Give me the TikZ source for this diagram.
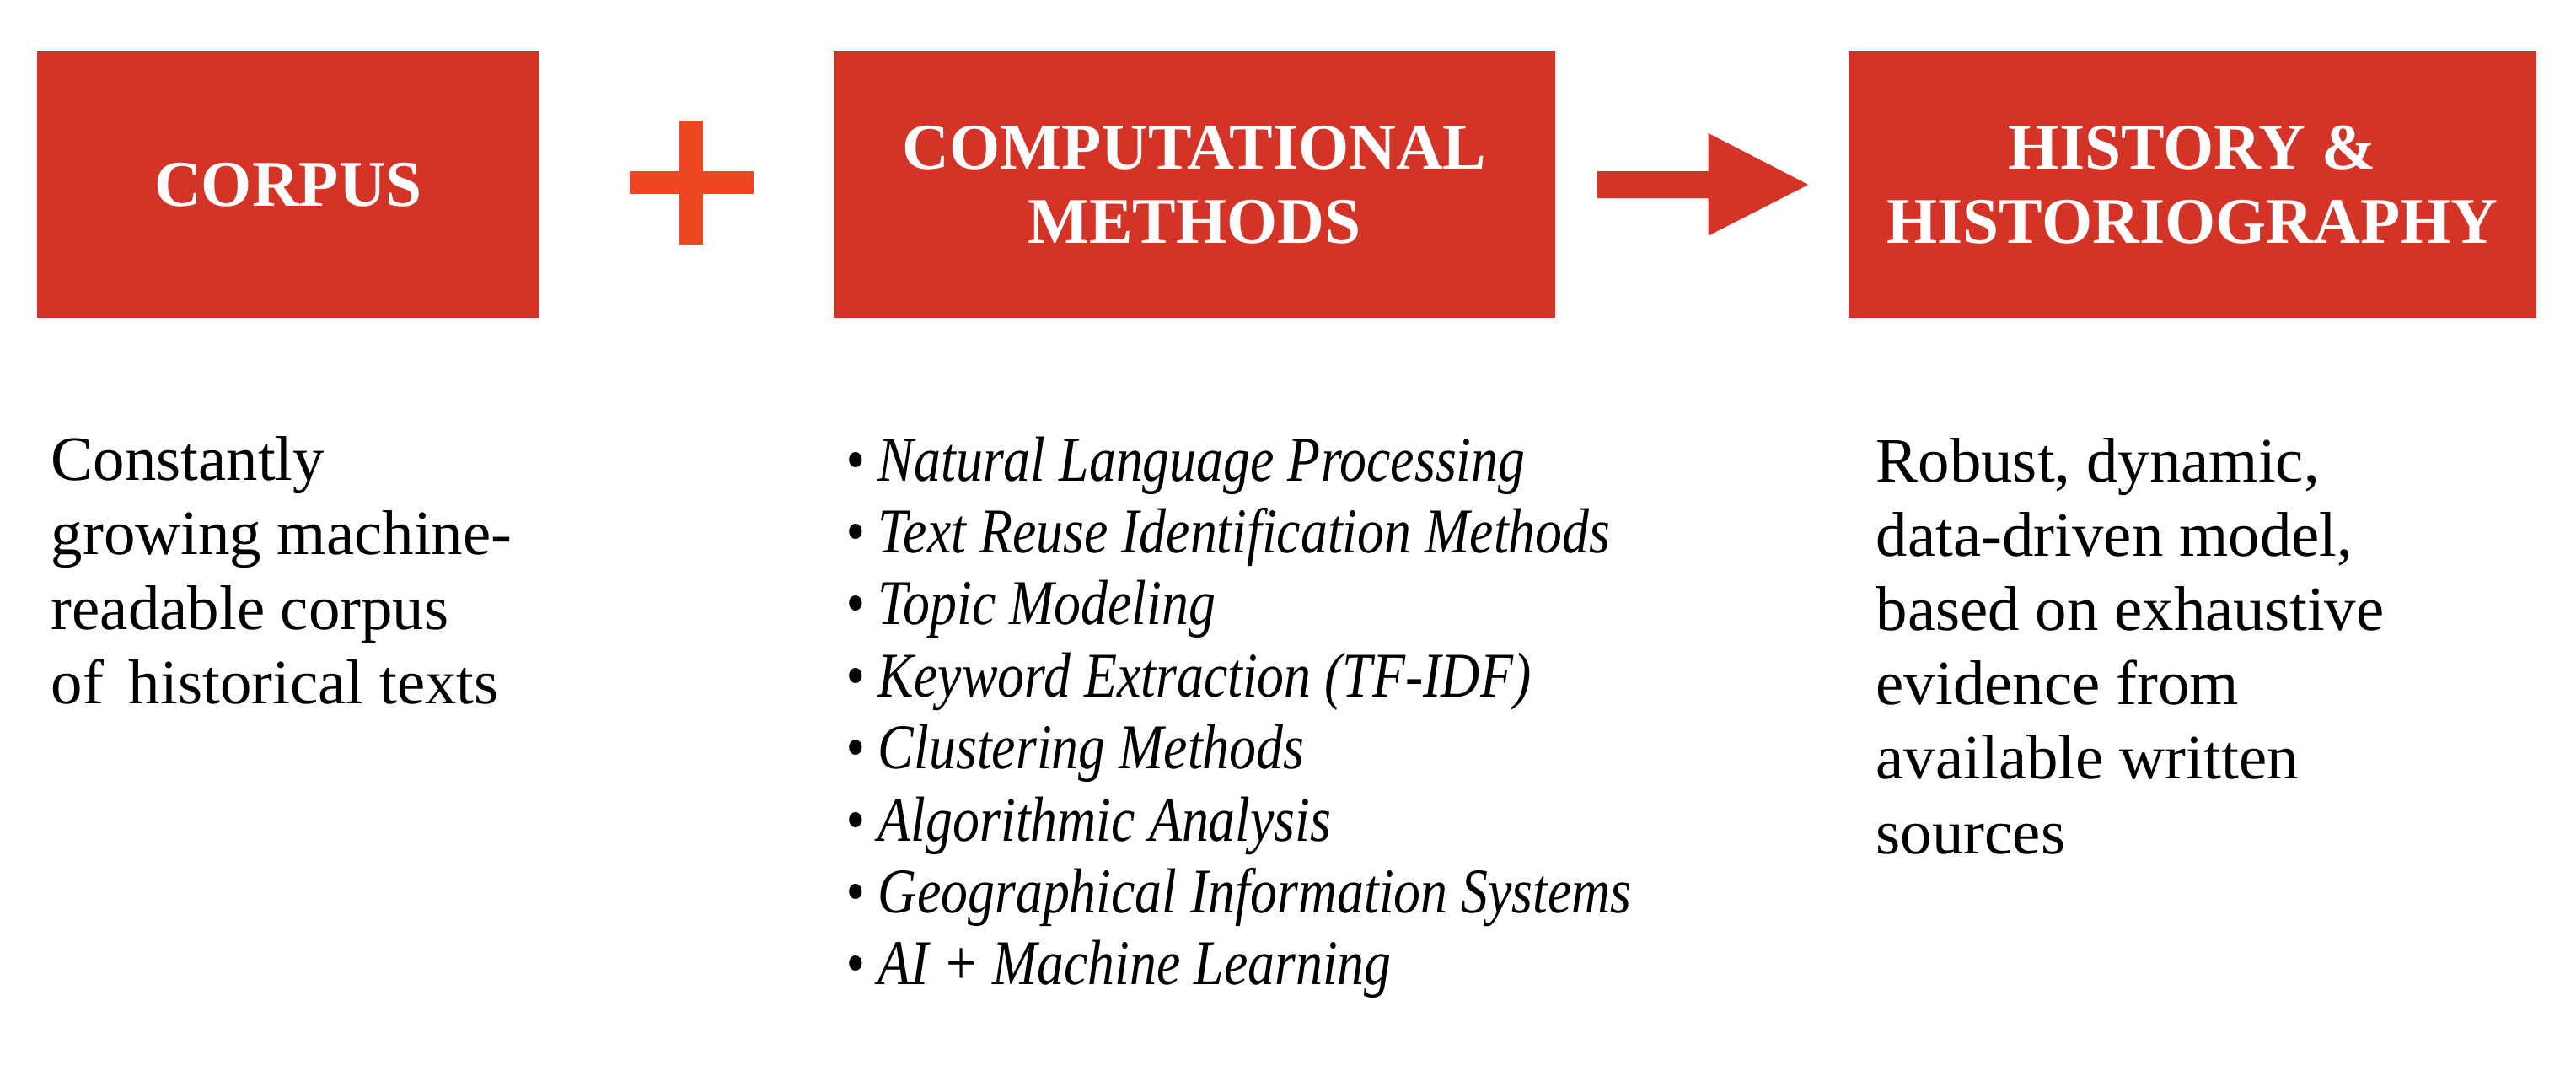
\documentclass[tikz,border=0pt]{standalone}
\usepackage{fontspec}
\setmainfont{Liberation Serif}
\newfontfamily\condfont{Liberation Serif}[FakeStretch=0.845]
\usetikzlibrary{calc}
\definecolor{boxred}{HTML}{D33427}
\definecolor{plusred}{HTML}{EE4622}
\newcommand{\linesblock}[1]{\begin{tabular}[t]{@{}l@{}}#1\end{tabular}}
\begin{document}
\begin{tikzpicture}[
  headbox/.style={fill=boxred, text=white, minimum height=3.16cm, inner sep=0pt,
    align=center, font=\fontsize{22}{25}\selectfont\bfseries},
  bodytext/.style={anchor=base west, inner sep=0pt, font=\fontsize{21.3}{25.2}\selectfont},
  histtext/.style={anchor=base west, inner sep=0pt, font=\fontsize{21.3}{25.1}\selectfont},
  listtext/.style={anchor=base west, inner sep=0pt, font=\condfont\itshape\fontsize{21.5}{24.3}\selectfont},
]
\useasboundingbox (0,0) rectangle (30.56,-12.70);
\node[headbox, minimum width=5.96cm] (corpus) at (3.42,-2.19) {CORPUS};
\node[headbox, minimum width=8.56cm] (comp) at (14.17,-2.19) {COMPUTATIONAL\\METHODS};
\node[headbox, minimum width=8.16cm] (hist) at (26.01,-2.19) {HISTORY \&\\HISTORIOGRAPHY};
% plus sign
\coordinate (plusc) at (8.20,-2.165);
\fill[plusred] ($(plusc)+(-0.14,0.735)$) rectangle ($(plusc)+(0.14,-0.735)$);
\fill[plusred] ($(plusc)+(-0.735,0.135)$) rectangle ($(plusc)+(0.735,-0.135)$);
% block arrow
\coordinate (arrS) at ($(comp.east)+(0.49,0)$);
\coordinate (arrT) at ($(hist.west)+(-0.47,0)$);
\fill[boxred] ($(arrS)+(0,0.16)$) -- ++(1.32,0) -- ++(0,0.45) -- (arrT)
  -- ($(arrS)+(1.32,-0.605)$) -- ++(0,0.445) -- ($(arrS)+(0,-0.16)$) -- cycle;
% texts
\node[bodytext] (corpustxt) at (0.60,-5.69) {\linesblock{Constantly\\growing machine-\\readable corpus\\of\hspace{0.4em}historical texts}};
\node[listtext] (methods) at (10.03,-5.70) {\linesblock{• Natural Language Processing\\• Text Reuse Identification Methods\\• Topic Modeling\\• Keyword Extraction (TF-IDF)\\• Clustering Methods\\• Algorithmic Analysis\\• Geographical Information Systems\\• AI + Machine Learning}};
\node[histtext] (histtxt) at (22.25,-5.71) {\linesblock{Robust, dynamic,\\data-driven model,\\based on exhaustive\\evidence from\\available written\\sources}};
\end{tikzpicture}
\end{document}
